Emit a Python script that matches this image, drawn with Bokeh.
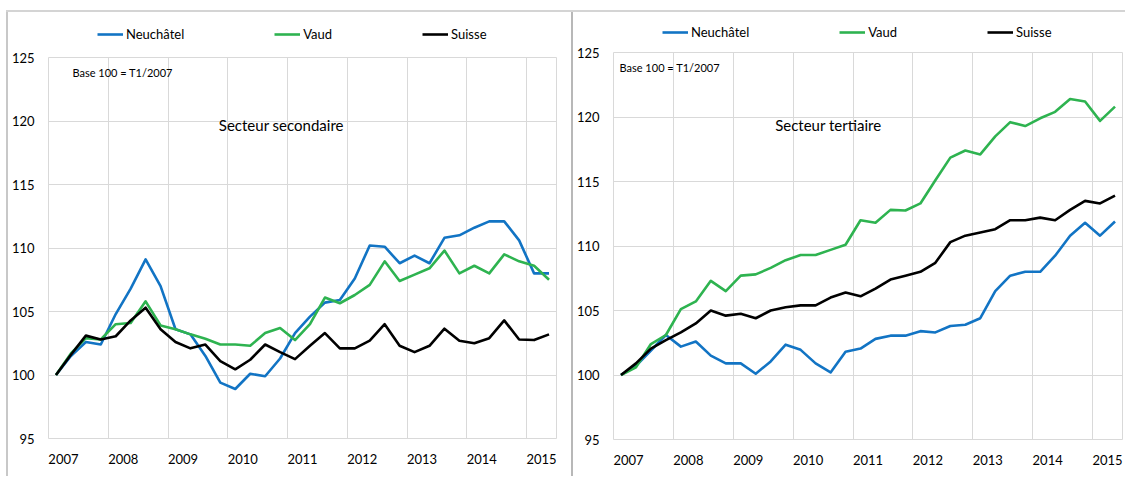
from bokeh.plotting import figure
from bokeh.models import Legend, LegendItem, Label, FixedTicker, Spacer
from bokeh.layouts import row, column
from bokeh.embed import file_html
from bokeh.resources import INLINE

# ---------------- data ----------------
years = [2007, 2008, 2009, 2010, 2011, 2012, 2013, 2014, 2015]
quarters = ["T1/2007", "T2/2007", "T3/2007", "T4/2007",
            "T1/2008", "T2/2008", "T3/2008", "T4/2008",
            "T1/2009", "T2/2009", "T3/2009", "T4/2009",
            "T1/2010", "T2/2010", "T3/2010", "T4/2010",
            "T1/2011", "T2/2011", "T3/2011", "T4/2011",
            "T1/2012", "T2/2012", "T3/2012", "T4/2012",
            "T1/2013", "T2/2013", "T3/2013", "T4/2013",
            "T1/2014", "T2/2014", "T3/2014", "T4/2014",
            "T1/2015", "T2/2015"]
y_ticks = [95, 100, 105, 110, 115, 120, 125]
series_names = ["Neuchâtel", "Vaud", "Suisse"]

# Secteur secondaire
sec_neuchatel = [100.0, 101.5, 102.6, 102.4, 104.8, 106.8, 109.1, 107.0, 103.6, 103.2,
                 101.5, 99.4, 98.9, 100.1, 99.9, 101.3, 103.3, 104.6, 105.7, 105.9,
                 107.6, 110.2, 110.1, 108.8, 109.4, 108.8, 110.8, 111.0, 111.6, 112.1,
                 112.1, 110.6, 108.0, 108.0]
sec_vaud = [100.0, 101.7, 102.9, 102.8, 104.0, 104.1, 105.8, 103.9, 103.6, 103.2,
            102.85, 102.4, 102.4, 102.3, 103.3, 103.7, 102.75, 104.0, 106.1, 105.65,
            106.3, 107.1, 108.95, 107.4, 107.9, 108.4, 109.8, 108.0, 108.6, 108.0,
            109.5, 108.95, 108.6, 107.5]
sec_suisse = [100.0, 101.6, 103.1, 102.8, 103.05, 104.3, 105.3, 103.6, 102.6, 102.1,
              102.4, 101.1, 100.45, 101.2, 102.4, 101.8, 101.25, 102.3, 103.3, 102.1,
              102.1, 102.7, 104.0, 102.3, 101.8, 102.3, 103.65, 102.7, 102.5, 102.9,
              104.3, 102.8, 102.75, 103.2]

# Secteur tertiaire
ter_neuchatel = [100.0, 100.7, 101.9, 103.1, 102.2, 102.6, 101.5, 100.9, 100.9, 100.1,
                 101.05, 102.35, 101.95, 100.9, 100.2, 101.8, 102.05, 102.8, 103.05, 103.05,
                 103.4, 103.3, 103.8, 103.9, 104.4, 106.5, 107.7, 108.0, 108.0, 109.25,
                 110.8, 111.8, 110.8, 111.9]
ter_vaud = [100.0, 100.6, 102.4, 103.1, 105.1, 105.7, 107.3, 106.5, 107.7, 107.8,
            108.3, 108.9, 109.3, 109.3, 109.7, 110.1, 112.0, 111.8, 112.8, 112.75,
            113.3, 115.1, 116.85, 117.4, 117.1, 118.5, 119.6, 119.3, 119.9, 120.4,
            121.4, 121.2, 119.7, 120.8]
ter_suisse = [100.0, 100.9, 102.05, 102.7, 103.3, 104.0, 105.0, 104.6, 104.75, 104.4,
              105.0, 105.25, 105.4, 105.4, 106.0, 106.4, 106.1, 106.7, 107.4, 107.7,
              108.0, 108.7, 110.3, 110.8, 111.05, 111.3, 112.0, 112.0, 112.2, 112.0,
              112.8, 113.5, 113.3, 113.9]

# ---------------- style ----------------
FONT = "Lato"
COLORS = ["#1274C4", "#2EB350", "#000000"]
GRID = "#d9d9d9"
LW = 2.6
H_LEG = 30
H_MAIN = 434


def quarter_pos(label):
    q, y = label[1], label[3:]
    return int(y) + (int(q) - 1) / 4 + 0.125


def legend_strip(series, width, loc):
    # strip above the plot holding the legend; the series lines it references
    # fall outside its (0, 1) y-range, so only the legend keys are visible
    lf = figure(width=width, height=H_LEG, x_range=(2007, 2015.5), y_range=(0, 1),
                output_backend="svg", toolbar_location=None,
                x_axis_type=None, y_axis_type=None,
                min_border_left=0, min_border_right=0,
                min_border_top=0, min_border_bottom=0)
    lf.outline_line_color = None
    lf.xgrid.visible = False
    lf.ygrid.visible = False
    lf.background_fill_color = "white"
    lf.border_fill_color = "white"
    xs = [quarter_pos(q) for q in quarters]
    items = []
    for n, vals, col in zip(series_names, series, COLORS):
        r = lf.line(xs, vals, line_color=col, line_width=LW)
        items.append(LegendItem(label=n, renderers=[r]))
    legend = Legend(items=items, location=loc, orientation="horizontal",
                    spacing=90, glyph_width=26, glyph_height=16,
                    label_height=16, label_standoff=3, padding=0, margin=0,
                    border_line_color=None, background_fill_alpha=0,
                    label_text_font=FONT, label_text_font_size="13px",
                    label_text_color="#000000")
    lf.add_layout(legend)
    return lf


def panel(series, width, bl, br, bt, bb, base_xy, sector_text, sector_xy):
    p = figure(width=width, height=H_MAIN, x_range=(2007, 2015.5), y_range=(95, 125),
               output_backend="svg", toolbar_location=None,
               min_border_left=bl, min_border_right=br,
               min_border_top=bt, min_border_bottom=bb)
    p.background_fill_color = "white"
    p.border_fill_color = "white"
    p.outline_line_color = GRID
    p.outline_line_width = 1

    xs = [quarter_pos(q) for q in quarters]
    for vals, col in zip(series, COLORS):
        p.line(xs, vals, line_color=col, line_width=LW, line_join="round")

    p.xaxis.ticker = FixedTicker(ticks=[y + 0.25 for y in years])
    p.xaxis.major_label_overrides = {y + 0.25: str(y) for y in years}
    p.xgrid.ticker = FixedTicker(ticks=years)
    p.yaxis.ticker = FixedTicker(ticks=y_ticks)
    for ax in (p.xaxis, p.yaxis):
        ax.axis_line_color = None
        ax.major_tick_line_color = None
        ax.minor_tick_line_color = None
        ax.major_tick_out = 0
        ax.major_tick_in = 0
        ax.major_label_text_font = FONT
        ax.major_label_text_font_size = "13px"
        ax.major_label_text_color = "#000000"
    p.xaxis.major_label_standoff = 15
    p.yaxis.major_label_standoff = 14
    p.xgrid.grid_line_color = GRID
    p.ygrid.grid_line_color = GRID

    p.add_layout(Label(x=base_xy[0], y=base_xy[1], text="Base 100 = T1/2007",
                       text_font=FONT, text_font_size="11px", text_color="#000000",
                       text_baseline="middle", text_align="left"))
    p.add_layout(Label(x=sector_xy[0], y=sector_xy[1], text=sector_text,
                       text_font=FONT, text_font_size="15px", text_color="#000000",
                       text_baseline="middle", text_align="left"))
    return p


W1, W2 = 563, 551
sec = [sec_neuchatel, sec_vaud, sec_suisse]
ter = [ter_neuchatel, ter_vaud, ter_suisse]
p1 = panel(sec, W1, 38, 15, 15, 38,
           (2007.40, 123.8), "Secteur secondaire", (2009.85, 119.65))
p2 = panel(ter, W2, 37, 2, 10, 37,
           (2007.10, 123.85), "Secteur  tertiaire", (2009.70, 119.35))
l1 = legend_strip(sec, W1, (49, 0))
l2 = legend_strip(ter, W2, (49, 2))

# chart-area borders (thin spacers)
H_ALL = H_LEG + H_MAIN
vline1 = Spacer(width=2, height=H_ALL, styles={"background-color": "#c8c8c8"})
vline2 = Spacer(width=2, height=H_ALL, styles={"background-color": "#b8b8b8"})
hline = Spacer(width=1119, height=2, styles={"background-color": "#d4d4d4"})

layout = column(Spacer(width=1124, height=10),
                row(Spacer(width=6, height=2), hline),
                row(Spacer(width=6, height=H_ALL), vline1, column(l1, p1),
                    vline2, column(l2, p2)))
open("out.html", "w").write(file_html(layout, INLINE))
